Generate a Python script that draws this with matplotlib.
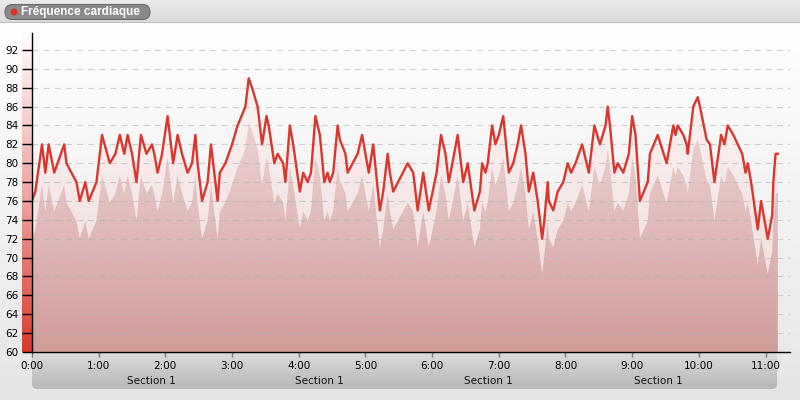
import numpy as np
import matplotlib
matplotlib.use('Agg')
import matplotlib.pyplot as plt
from matplotlib.patches import FancyBboxPatch, Circle, Polygon
from matplotlib.colors import LinearSegmentedColormap
from matplotlib.transforms import blended_transform_factory

#title of the chart
title = 'Fréquence cardiaque'

#time of each sample in minutes
minutes = [0, 3, 9, 12, 15, 20, 29, 31, 40, 43,
           48, 51, 58, 63, 70, 75, 79, 83, 86, 90,
           94, 98, 103, 108, 110, 113, 117, 122, 124, 127,
           131, 135, 140, 144, 147, 149, 153, 158, 161, 167,
           169, 174, 180, 185, 192, 195, 198, 203, 207, 211,
           213, 218, 221, 226, 228, 232, 235, 241, 244, 248,
           251, 255, 259, 263, 266, 268, 271, 275, 277, 282,
           284, 293, 297, 300, 303, 307, 313, 316, 320, 322,
           325, 338, 343, 347, 352, 357, 364, 368, 372, 375,
           383, 388, 392, 398, 403, 405, 408, 410, 414, 417,
           420, 424, 429, 433, 437, 440, 444, 447, 451, 455,
           456, 459, 461, 464, 465, 469, 473, 478, 482, 485,
           489, 495, 501, 506, 511, 516, 518, 520, 524, 527,
           532, 537, 540, 543, 547, 554, 556, 563, 571, 574,
           577, 579, 581, 586, 589, 590, 595, 599, 601, 607,
           610, 614, 620, 623, 626, 631, 635, 639, 642, 644,
           647, 653, 656, 662, 666, 667, 669, 671]

#heart rate (bpm)
heart_rate = [76, 77, 82, 79, 82, 79, 82, 80, 78, 76,
              78, 76, 78, 83, 80, 81, 83, 81, 83, 81,
              78, 83, 81, 82, 81, 79, 81, 85, 83, 80,
              83, 81, 79, 80, 83, 80, 76, 78, 82, 76,
              79, 80, 82, 84, 86, 89, 88, 86, 82, 85,
              84, 80, 81, 80, 78, 84, 82, 77, 79, 78,
              79, 85, 83, 78, 79, 78, 79, 84, 82.5, 81,
              79, 81, 83, 81, 79, 82, 75, 77, 81, 79,
              77, 80, 79, 75, 79, 75, 79, 83, 81, 78,
              83, 78, 80, 75, 77, 80, 79, 80, 84, 82,
              83, 85, 79, 80, 82, 84, 81, 77, 79, 76,
              75, 72, 74, 78, 76, 75, 77, 78, 80, 79,
              80, 82, 79, 84, 82, 84, 86, 84, 79, 80,
              79, 81, 85, 83, 76, 78, 81, 83, 80, 82,
              84, 83, 84, 83, 82, 81, 86, 87, 86, 82.5,
              82, 78, 83, 82, 84, 83, 82, 81, 79, 80,
              78, 73, 76, 72, 74.5, 78, 81, 81]

#lower band under the heart rate line
lower_band = [72.0, 73.0, 77.7, 74.9, 77.7, 74.9, 77.7, 75.8, 73.9, 72.0,
              73.9, 72.0, 73.9, 78.7, 75.8, 76.8, 78.7, 76.8, 78.7, 76.8,
              73.9, 78.7, 76.8, 77.7, 76.8, 74.9, 76.8, 80.6, 78.7, 75.8,
              78.7, 76.8, 74.9, 75.8, 78.7, 75.8, 72.0, 73.9, 77.7, 72.0,
              74.9, 75.8, 77.7, 79.6, 81.5, 84.4, 83.4, 81.5, 77.7, 80.6,
              79.6, 75.8, 76.8, 75.8, 73.9, 79.6, 77.7, 73.0, 74.9, 73.9,
              74.9, 80.6, 78.7, 73.9, 74.9, 73.9, 74.9, 79.6, 78.2, 76.8,
              74.9, 76.8, 78.7, 76.8, 74.9, 77.7, 71.1, 73.0, 76.8, 74.9,
              73.0, 75.8, 74.9, 71.1, 74.9, 71.1, 74.9, 78.7, 76.8, 73.9,
              78.7, 73.9, 75.8, 71.1, 73.0, 75.8, 74.9, 75.8, 79.6, 77.7,
              78.7, 80.6, 74.9, 75.8, 77.7, 79.6, 76.8, 73.0, 74.9, 72.0,
              71.1, 68.3, 70.2, 73.9, 72.0, 71.1, 73.0, 73.9, 75.8, 74.9,
              75.8, 77.7, 74.9, 79.6, 77.7, 79.6, 81.5, 79.6, 74.9, 75.8,
              74.9, 76.8, 80.6, 78.7, 72.0, 73.9, 76.8, 78.7, 75.8, 77.7,
              79.6, 78.7, 79.6, 78.7, 77.7, 76.8, 81.5, 82.5, 81.5, 78.2,
              77.7, 73.9, 78.7, 77.7, 79.6, 78.7, 77.7, 76.8, 74.9, 75.8,
              73.9, 69.2, 72.0, 68.3, 70.6, 73.9, 76.8, 76.8]

hour_ticks = list(range(0, 12))
hour_labels = ['%d:00' % h for h in hour_ticks]
y_ticks = list(range(60, 93, 2))
section_centres = [107, 259, 411, 564]
section_labels = ['Section 1'] * 4

assert len(minutes) == len(heart_rate) == len(lower_band)

x = np.asarray(minutes, dtype=float)
hr = np.asarray(heart_rate, dtype=float)
low = np.asarray(lower_band, dtype=float)

W, H = 800, 400
fig = plt.figure(figsize=(W / 100, H / 100), dpi=100)

#background axes in pixel units
bg = fig.add_axes([0, 0, 1, 1], zorder=-5)
bg.set_xlim(0, W)
bg.set_ylim(H, 0)
bg.axis('off')

rows = np.zeros((H, 1, 3))
rows[:22, 0, :] = np.linspace(0.92, 0.86, 22)[:, None]
rows[22, 0, :] = 0.74
rows[23:, 0, :] = np.linspace(1.0, 0.90, H - 23)[:, None]
bg.imshow(rows, extent=[0, W, H, 0], aspect='auto', interpolation='bilinear', zorder=0)

#title pill
pill = FancyBboxPatch((5, 4.5), 145, 15, boxstyle='round,pad=0,rounding_size=7.5',
                      facecolor='#8a8a8a', edgecolor='#6a6a6a', lw=0.8, zorder=2)
bg.add_patch(pill)
bg.add_patch(Circle((14, 12), 2.8, color='#d8322a', zorder=3))
bg.text(21, 12.3, title, color='white', fontsize=8.5, fontweight='bold',
        family='Liberation Sans', va='center', ha='left', zorder=3)

#section band under the x axis
band = FancyBboxPatch((32, 352), 745, 37, boxstyle='round,pad=0,rounding_size=5',
                      facecolor='none', edgecolor='none')
bg.add_patch(band)
band_grad = np.linspace(0.86, 0.72, 40)[:, None, None] * np.ones((1, 1, 3))
im = bg.imshow(band_grad, extent=[32, 777, 389, 352], aspect='auto',
               interpolation='bilinear', zorder=1)
im.set_clip_path(band)

#colour scale bar left of y axis: white at top, red at the bottom
top_c = np.array([1.0, 0.99, 0.99])
mid_c = np.array([0.93, 0.66, 0.65])
bot_c = np.array([0.85, 0.23, 0.19])
f = np.linspace(0, 1, 200)[:, None]
bar_rgb = np.where(f < 0.5, top_c + (mid_c - top_c) * (f / 0.5),
                   mid_c + (bot_c - mid_c) * ((f - 0.5) / 0.5))
bg.imshow(bar_rgb[:, None, :], extent=[22, 32, 352, 30], aspect='auto',
          interpolation='bilinear', zorder=1)

#main chart
ax = fig.add_axes([32 / W, 48 / H, 758 / W, 319 / H])
ax.patch.set_alpha(0)
ax.set_xlim(0, 682)
ax.set_ylim(60, 93.8)

#light band under the line
light_cmap = LinearSegmentedColormap.from_list('light', ['#efd8d8', '#fcf6f6'])
verts = np.column_stack([np.r_[x, x[::-1]], np.r_[hr, np.full(len(x), 60)]])
poly_hr = Polygon(verts, closed=True, facecolor='none', edgecolor='none')
ax.add_patch(poly_hr)
img = ax.imshow(np.linspace(0, 1, 100)[:, None], extent=[0, x[-1], 60, 92], origin='lower',
                aspect='auto', cmap=light_cmap, interpolation='bilinear', zorder=1)
img.set_clip_path(poly_hr)

#darker band under the lower curve
dark_cmap = LinearSegmentedColormap.from_list('dark', ['#cf9c99', '#e0baba', '#edd4d4'])
verts2 = np.column_stack([np.r_[x, x[::-1]], np.r_[low, np.full(len(x), 60)]])
poly_low = Polygon(verts2, closed=True, facecolor='none', edgecolor='none')
ax.add_patch(poly_low)
img2 = ax.imshow(np.linspace(0, 1, 100)[:, None], extent=[0, x[-1], 60, 86], origin='lower',
                 aspect='auto', cmap=dark_cmap, interpolation='bilinear', zorder=2)
img2.set_clip_path(poly_low)

#grid
for yv in y_ticks[1:]:
    ax.axhline(yv, color='#b4b4b4', lw=0.8, ls=(0, (5.5, 4.5)), alpha=0.6, zorder=3)

ax.plot(x, hr, color='#d9362e', lw=1.7, solid_joinstyle='round', zorder=5)

ax.spines['top'].set_visible(False)
ax.spines['right'].set_visible(False)
ax.spines['left'].set_linewidth(1)
ax.spines['bottom'].set_linewidth(1)
ax.spines['left'].set_zorder(6)
ax.spines['bottom'].set_zorder(6)

ax.set_yticks(y_ticks)
ax.set_yticklabels([str(v) for v in y_ticks])
ax.tick_params(axis='y', length=7.2, width=1, color='black', pad=2.5, labelsize=7.5)
ax.set_xticks([h * 60 for h in hour_ticks])
ax.set_xticklabels(hour_labels)
ax.tick_params(axis='x', length=3.5, width=1, color='#777777', pad=3, labelsize=7.5)

trans = blended_transform_factory(ax.transData, ax.transAxes)
for cx, lab in zip(section_centres, section_labels):
    ax.text(cx, -0.091, lab, transform=trans, ha='center', va='center', fontsize=7.5,
            color='#111111')

fig.savefig('out.png', dpi=100)
